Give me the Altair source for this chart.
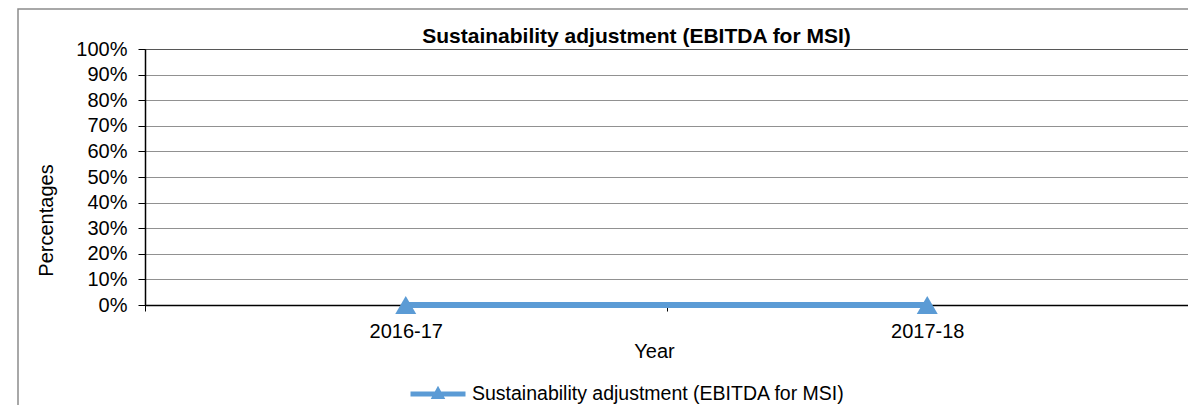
import altair as alt
import pandas as pd

years = ["2016-17", "2017-18"]
values = [0.0, 0.0]
series_name = "Sustainability adjustment (EBITDA for MSI)"
y_ticks = [0.0, 0.1, 0.2, 0.3, 0.4, 0.5, 0.6, 0.7, 0.8, 0.9, 1.0]

df = pd.DataFrame({"year": years, "value": values, "series": [series_name] * len(years)})

FONT = "Liberation Sans"
BLUE = "#5B9BD5"

x_enc = alt.X(
    "year:N",
    sort=years,
    scale=alt.Scale(paddingInner=0, paddingOuter=0),
    axis=alt.Axis(
        title="Year",
        labelAngle=0,
        tickBand="extent",
        tickSize=6,
        labelPadding=10,
        titleX=509,
        titleY=46,
        titleBaseline="middle",
        titleAnchor="start",
        titleAlign="center",
    ),
)
y_enc = alt.Y(
    "value:Q",
    scale=alt.Scale(domain=[0, 1], nice=False, zero=True),
    axis=alt.Axis(
        title="Percentages",
        values=y_ticks,
        format=".0%",
        tickSize=7,
        labelPadding=11,
        labelOverlap=False,
        grid=True,
        gridColor="#222222",
        gridDash=[1, 1],
        gridWidth=1,
        titleX=-99,
        titleY=171,
        titleAngle=270,
        titleBaseline="middle",
        titleAlign="center",
    ),
)
color_enc = alt.Color(
    "series:N",
    scale=alt.Scale(range=[BLUE]),
    legend=alt.Legend(
        title=None,
        orient="none",
        legendX=263,
        legendY=315,
        symbolType="M-1,0H1M-0.11,0.09L0,-0.11L0.11,0.09Z",
        symbolSize=3025,
        symbolStrokeWidth=5,
        symbolFillColor=BLUE,
        symbolStrokeColor=BLUE,
        labelFontSize=19.5,
        labelFont=FONT,
        labelColor="#000000",
        labelOffset=4,
        labelLimit=0,
        padding=0,
    ),
)

base = alt.Chart(df)
line = base.mark_line(strokeWidth=6).encode(x=x_enc, y=y_enc, color=color_enc)
points = base.mark_point(shape="triangle-up", filled=True, size=440, opacity=1).encode(
    x=x_enc, y=y_enc, color=alt.Color("series:N", legend=None)
)

frame = alt.Chart(pd.DataFrame({"k": [0]})).mark_rect(
    fill=None, stroke="#8c8c8c", strokeWidth=1.5
).encode(
    x=alt.value(-127), x2=alt.value(1200), y=alt.value(-40), y2=alt.value(500)
)

chart = alt.layer(frame, line, points).properties(
    width=1043,
    height=256,
    background="white",
    title=alt.TitleParams(
        text="Sustainability adjustment (EBITDA for MSI)",
        font=FONT,
        fontSize=21,
        fontWeight="bold",
        color="#000000",
        anchor="middle",
        frame="group",
        baseline="alphabetic",
        dx=-30,
        dy=56,
        offset=0,
    ),
    autosize=alt.AutoSizeParams(type="none"),
    padding={"left": 137, "top": 41, "right": 0, "bottom": 100},
).configure_view(
    stroke="#8c8c8c", strokeWidth=1
).configure_axis(
    labelFont=FONT,
    titleFont=FONT,
    labelFontSize=20,
    titleFontSize=20,
    titleFontWeight="normal",
    labelColor="#000000",
    titleColor="#000000",
    domainColor="#000000",
    domainWidth=1.5,
    tickColor="#000000",
    tickWidth=1,
)

chart.save("out.html", embed_options={"renderer": "svg", "actions": False})
